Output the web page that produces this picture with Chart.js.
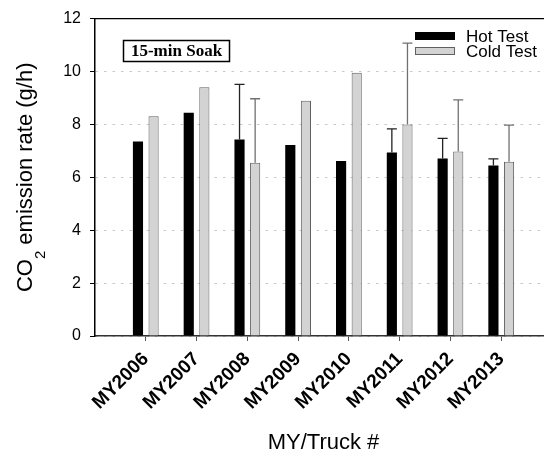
<!DOCTYPE html>
<html>
<head>
<meta charset="utf-8">
<script src="https://cdn.jsdelivr.net/npm/chart.js@4"></script>
<style>
  html, body { margin: 0; padding: 0; overflow: hidden; background: #fff; }
  #wrap { width: 552px; height: 459px; }
</style>
</head>
<body>
<div id="wrap"><canvas id="myChart" width="552" height="459"></canvas></div>
<script>
const categories = ["MY2006", "MY2007", "MY2008", "MY2009", "MY2010", "MY2011", "MY2012", "MY2013"];
const hotTest = [7.35, 8.44, 7.43, 7.22, 6.62, 6.94, 6.71, 6.45];
const coldTest = [8.31, 9.40, 6.55, 8.89, 9.95, 8.00, 6.98, 6.59];
// barre di errore (solo parte superiore)
const hotErr = [0, 0, 2.08, 0, 0, 0.89, 0.76, 0.25];
const coldErr = [0, 0, 2.42, 0, 0, 3.07, 1.95, 1.38];
const yTitle = ["CO", "2", " emission rate (g/h)"];
const xTitle = "MY/Truck #";
const soakLabel = "15-min Soak";

const sans = "'Liberation Sans', Arial, sans-serif";
const ctx = document.getElementById("myChart");

const toPoints = (arr) => arr.map((v, i) => ({ x: i + 1, y: v }));

const errorBars = {
    id: "errorBars",
    afterDatasetsDraw(chart) {
        const c = chart.ctx;
        const y = chart.scales.y;
        chart.data.datasets.forEach((ds, i) => {
            const meta = chart.getDatasetMeta(i);
            meta.data.forEach((bar, j) => {
                const e = ds.errors[j];
                if (!e) return;
                const top = y.getPixelForValue(ds.data[j].y + e);
                c.save();
                c.strokeStyle = ds.errorColor;
                c.lineWidth = 1.3;
                c.beginPath();
                c.moveTo(bar.x, bar.y);
                c.lineTo(bar.x, top);
                c.moveTo(bar.x - 5, top);
                c.lineTo(bar.x + 5, top);
                c.stroke();
                c.restore();
            });
        });
    },
};

const decorations = {
    id: "decorations",
    afterDraw(chart) {
        const c = chart.ctx;
        const a = chart.chartArea;
        c.save();
        // linea superiore del riquadro
        c.strokeStyle = "#000";
        c.lineWidth = 1.2;
        c.beginPath();
        c.moveTo(a.left, a.top);
        c.lineTo(a.right, a.top);
        c.stroke();

        // legenda
        chart.data.datasets.forEach((ds, i) => {
            const top = 32 + i * 15;
            c.fillStyle = ds.backgroundColor;
            c.fillRect(415, top, 40, 8);
            c.strokeStyle = ds.borderWidth ? ds.borderColor : ds.backgroundColor;
            c.lineWidth = 1;
            c.strokeRect(415.5, top + 0.5, 39, 7);
            c.fillStyle = "#000";
            c.font = "17px " + sans;
            c.textBaseline = "middle";
            c.textAlign = "left";
            c.fillText(ds.label, 466, top + 5.5);
        });

        // riquadro "15-min Soak"
        c.strokeStyle = "#000";
        c.lineWidth = 1.5;
        c.strokeRect(123.5, 40.5, 106, 21);
        c.font = "bold 17px 'Liberation Serif', 'Times New Roman', serif";
        c.textAlign = "center";
        c.textBaseline = "middle";
        c.fillText(soakLabel, 176.5, 51.5);

        // titolo asse y con pedice
        const big = "22px " + sans;
        const small = "15px " + sans;
        c.font = big;
        const w0 = c.measureText(yTitle[0]).width;
        const w2 = c.measureText(yTitle[2]).width;
        c.font = small;
        const w1 = c.measureText(yTitle[1]).width;
        const total = w0 + w1 + w2;
        const cy = (a.top + a.bottom) / 2;
        c.translate(32, cy);
        c.rotate(-Math.PI / 2);
        c.textAlign = "left";
        c.textBaseline = "alphabetic";
        let x = -total / 2;
        c.font = big;
        c.fillText(yTitle[0], x, 0);
        x += w0;
        c.font = small;
        c.fillText(yTitle[1], x, 13);
        x += w1;
        c.font = big;
        c.fillText(yTitle[2], x, 0);
        c.restore();
    },
};

new Chart(ctx, {
    type: "bar",
    data: {
        datasets: [
            {
                label: "Hot Test",
                data: toPoints(hotTest),
                errors: hotErr,
                errorColor: "#222",
                backgroundColor: "#000",
                borderWidth: 0,
            },
            {
                label: "Cold Test",
                data: toPoints(coldTest),
                errors: coldErr,
                errorColor: "#707070",
                backgroundColor: "#d3d3d3",
                borderColor: "#606060",
                borderWidth: 1,
            },
        ],
    },
    options: {
        responsive: false,
        animation: false,
        barPercentage: 0.65,
        categoryPercentage: 0.615,
        layout: { padding: { top: 16, right: 0, left: 0, bottom: 0 } },
        plugins: {
            legend: { display: false },
            tooltip: { enabled: false },
        },
        scales: {
            x: {
                type: "linear",
                min: 0,
                max: 9,
                offset: false,
                afterBuildTicks: (s) => {
                    s.ticks = categories.map((c, i) => ({ value: i + 1 }));
                },
                afterFit: (s) => {
                    s.height = 123;
                },
                grid: {
                    offset: false,
                    drawOnChartArea: false,
                    drawTicks: true,
                    tickLength: 5,
                    tickColor: "#555",
                },
                border: { color: "#333", width: 1.5 },
                ticks: {
                    autoSkip: false,
                    maxRotation: 45,
                    minRotation: 45,
                    padding: 7,
                    color: "#000",
                    font: { family: sans, weight: "bold", size: 19 },
                    callback: (v) => categories[v - 1] ?? "",
                },
                title: {
                    display: true,
                    text: xTitle,
                    color: "#000",
                    font: { family: sans, size: 22 },
                    padding: { top: 0, bottom: 3 },
                },
            },
            y: {
                min: 0,
                max: 12,
                afterFit: (s) => {
                    s.width = 95;
                },
                ticks: {
                    stepSize: 2,
                    padding: 9,
                    color: "#000",
                    font: { family: sans, size: 16 },
                },
                grid: {
                    color: "#c8c8c8",
                    lineWidth: 1,
                    drawTicks: true,
                    tickLength: 5,
                    tickColor: "#000",
                },
                border: { color: "#000", width: 1.5, dash: [2.5, 6] },
            },
        },
    },
    plugins: [errorBars, decorations],
});
</script>
</body>
</html>
